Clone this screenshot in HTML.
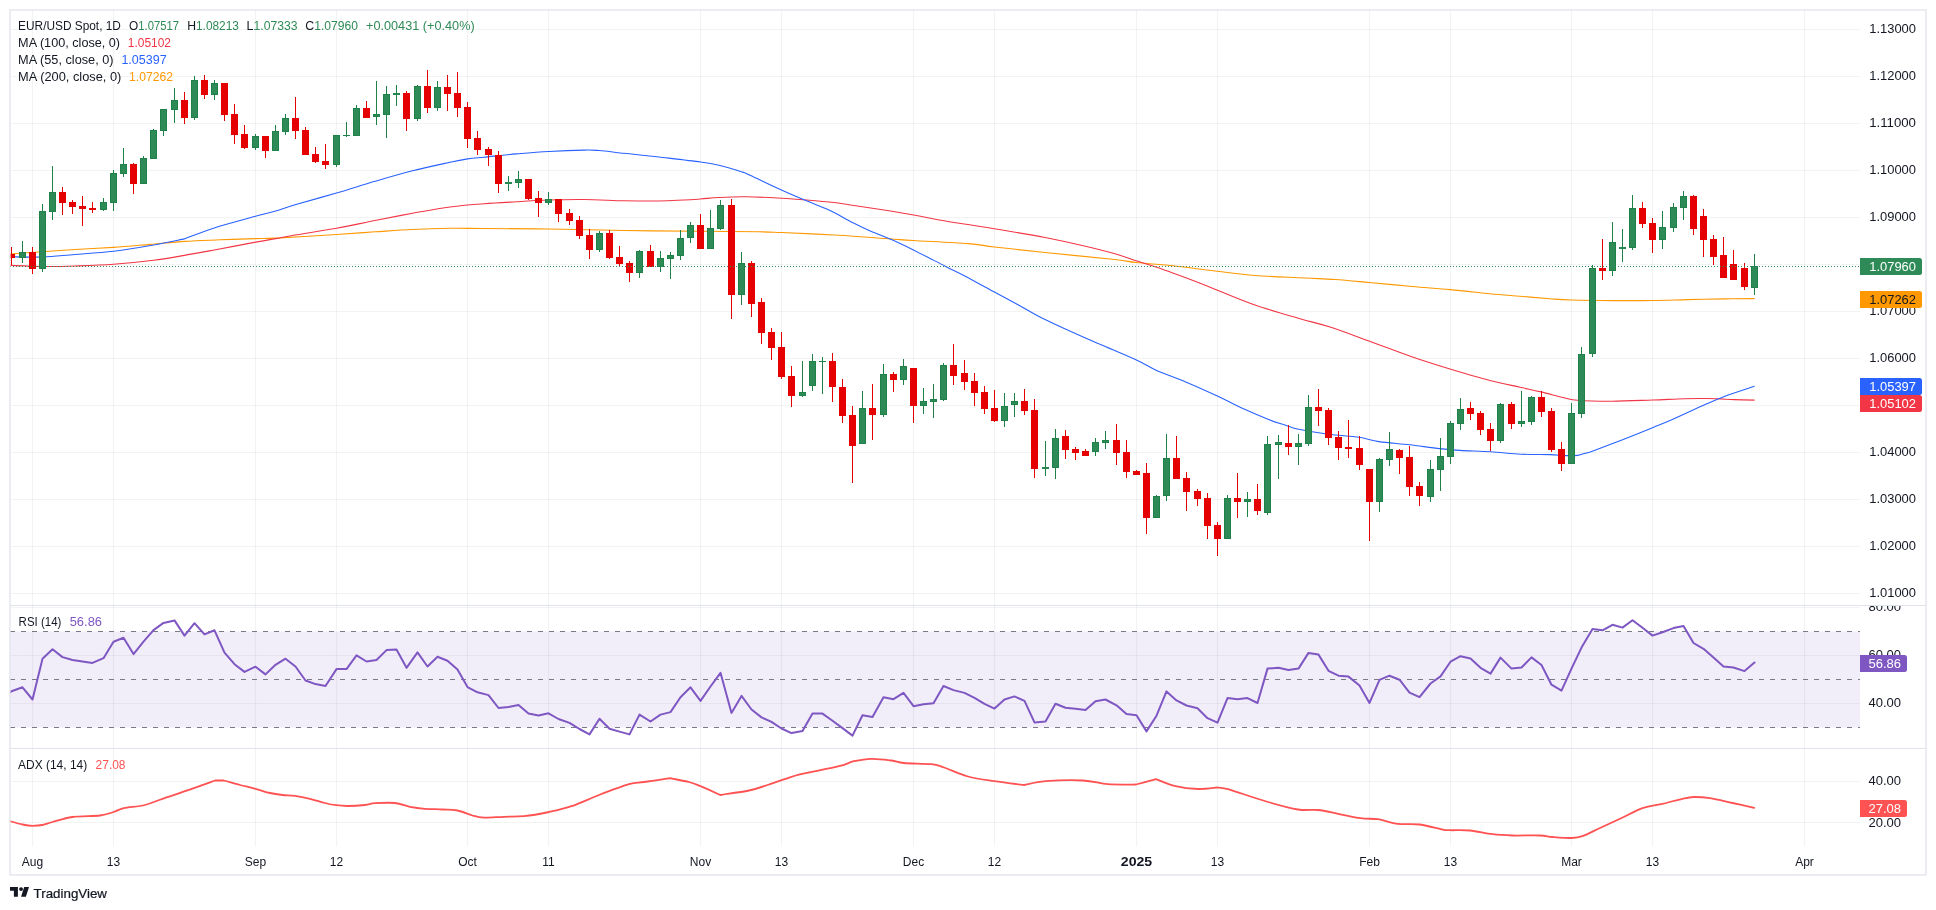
<!DOCTYPE html><html><head><meta charset="utf-8"><title>EUR/USD</title>
<style>html,body{margin:0;padding:0;background:#fff}body{width:1936px;height:910px;overflow:hidden;font-family:"Liberation Sans",sans-serif}svg{display:block;will-change:transform;opacity:0.999}text{font-family:"Liberation Sans",sans-serif}</style></head><body>
<svg width="1936" height="910" viewBox="0 0 1936 910">
<rect width="1936" height="910" fill="#fff"/>
<path d="M10 29.5H1860 M10 76.5H1860 M10 123.5H1860 M10 170.5H1860 M10 217.5H1860 M10 264.5H1860 M10 311.5H1860 M10 358.5H1860 M10 405.5H1860 M10 452.5H1860 M10 499.5H1860 M10 546.5H1860 M10 593.5H1860 M10 607.5H1860 M10 655.5H1860 M10 703.5H1860 M10 781.5H1860 M10 822.5H1860" stroke="#2A2E39" stroke-opacity="0.06" stroke-width="1.15" fill="none"/>
<path d="M32.5 10V846.5 M113.5 10V846.5 M255.5 10V846.5 M336.5 10V846.5 M467.5 10V846.5 M548.5 10V846.5 M700.5 10V846.5 M781.5 10V846.5 M913.5 10V846.5 M994.5 10V846.5 M1136.5 10V846.5 M1217.5 10V846.5 M1369.5 10V846.5 M1450.5 10V846.5 M1571.5 10V846.5 M1652.5 10V846.5 M1804.5 10V846.5" stroke="#2A2E39" stroke-opacity="0.06" stroke-width="1.15" fill="none"/>
<rect x="10" y="631.5" width="1850" height="96" fill="#7E57C2" fill-opacity="0.1"/>
<path d="M10 631.5H1860" stroke="#787B86" stroke-width="1" stroke-dasharray="5 6" fill="none"/>
<path d="M10 679.5H1860" stroke="#787B86" stroke-width="1" stroke-dasharray="5 6" fill="none"/>
<path d="M10 727.5H1860" stroke="#787B86" stroke-width="1" stroke-dasharray="5 6" fill="none"/>
<clipPath id="cp"><rect x="10" y="10" width="1850" height="865"/></clipPath>
<g clip-path="url(#cp)">
<path d="M10.0 254.0C15.4 253.6 31.7 252.4 42.5 251.7C53.3 250.9 63.2 250.2 75.0 249.5C86.8 248.8 101.0 248.2 113.5 247.4C126.0 246.6 138.1 245.4 150.0 244.4C161.9 243.4 173.3 242.2 185.0 241.4C196.7 240.6 208.2 240.3 220.0 239.8C231.8 239.3 246.2 238.9 255.5 238.6C264.8 238.3 262.2 238.8 275.7 238.1C289.2 237.4 319.9 235.6 336.5 234.5C353.1 233.4 362.3 232.6 375.0 231.8C387.7 231.0 400.0 230.1 412.5 229.5C425.0 228.9 438.1 228.5 450.0 228.3C461.9 228.1 467.5 228.4 484.0 228.5C500.5 228.6 525.7 228.7 549.0 229.0C572.3 229.3 598.8 230.1 624.0 230.5C649.2 230.9 678.0 231.0 700.5 231.2C723.0 231.5 745.5 231.5 759.0 231.8C772.5 232.0 769.0 232.0 781.5 232.5C794.0 233.0 816.1 234.0 834.0 235.0C851.9 236.0 875.8 237.8 889.0 238.8C902.2 239.7 900.3 239.7 913.5 240.5C926.7 241.3 954.5 242.5 968.0 243.6C981.5 244.7 981.7 245.5 994.5 247.0C1007.3 248.5 1024.9 250.4 1045.0 252.5C1065.1 254.6 1099.8 257.8 1115.0 259.5C1130.2 261.2 1126.0 261.4 1136.0 262.5C1146.0 263.6 1161.5 264.5 1175.0 266.0C1188.5 267.5 1203.7 269.7 1217.0 271.2C1230.3 272.8 1240.3 274.4 1255.0 275.5C1269.7 276.6 1291.7 277.3 1305.0 278.0C1318.3 278.7 1324.3 278.8 1335.0 279.5C1345.7 280.2 1356.1 281.3 1369.0 282.5C1381.9 283.7 1399.0 285.3 1412.5 286.5C1426.0 287.7 1437.1 288.4 1450.0 289.6C1462.9 290.8 1478.3 292.6 1490.0 293.8C1501.7 294.9 1510.0 295.4 1520.0 296.2C1530.0 297.1 1541.4 298.1 1550.0 298.8C1558.6 299.4 1561.1 299.7 1571.5 300.0C1581.9 300.3 1599.0 300.5 1612.5 300.6C1626.0 300.7 1640.0 300.7 1652.5 300.5C1665.0 300.3 1675.4 299.9 1687.5 299.6C1699.6 299.3 1713.9 299.1 1725.0 298.9C1736.1 298.7 1749.4 298.7 1754.2 298.6" stroke="#FF9800" stroke-width="1.1" fill="none" stroke-linejoin="round" stroke-linecap="round"/>
<path d="M10.0 265.4C15.4 265.6 31.7 266.4 42.5 266.5C53.3 266.6 63.2 266.4 75.0 266.0C86.8 265.6 100.4 265.2 113.5 264.3C126.6 263.4 141.8 261.8 153.6 260.3C165.4 258.8 174.2 257.1 184.3 255.4C194.4 253.7 202.4 252.2 214.3 250.0C226.2 247.8 245.5 244.0 255.7 242.1C265.9 240.2 269.1 239.8 275.7 238.6C282.2 237.4 284.9 236.7 295.0 235.0C305.1 233.3 323.2 230.7 336.5 228.3C349.8 225.9 362.3 223.0 375.0 220.5C387.7 218.0 400.0 215.6 412.5 213.3C425.0 211.1 438.1 208.6 450.0 207.0C461.9 205.4 472.9 204.6 484.0 203.8C495.1 202.9 505.7 202.4 516.5 201.8C527.3 201.1 537.8 200.4 549.0 200.0C560.2 199.6 571.5 199.4 584.0 199.5C596.5 199.6 611.5 200.5 624.0 200.8C636.5 201.0 649.0 201.1 659.0 201.0C669.0 200.9 677.1 200.3 684.0 200.0C690.9 199.7 694.7 199.4 700.5 199.0C706.3 198.6 711.3 197.9 719.0 197.5C726.7 197.1 736.1 196.6 746.5 196.8C756.9 196.9 771.5 197.7 781.5 198.2C791.5 198.8 797.8 199.3 806.5 200.0C815.2 200.7 826.1 201.6 834.0 202.5C841.9 203.4 844.8 204.1 854.0 205.5C863.2 206.9 879.1 209.2 889.0 210.8C898.9 212.3 903.9 213.2 913.5 215.0C923.1 216.8 937.4 219.7 946.5 221.2C955.6 222.8 960.0 223.2 968.0 224.5C976.0 225.8 981.7 226.6 994.5 228.8C1007.3 230.9 1030.8 234.8 1045.0 237.5C1059.2 240.2 1068.3 242.3 1080.0 245.0C1091.7 247.7 1105.7 251.1 1115.0 253.8C1124.3 256.4 1128.9 258.5 1136.0 260.8C1143.1 263.0 1147.7 264.1 1157.5 267.5C1167.3 270.9 1185.1 277.5 1195.0 281.2C1204.9 285.0 1207.0 286.0 1217.0 290.0C1227.0 294.0 1241.2 300.2 1255.0 305.0C1268.8 309.8 1287.5 315.1 1300.0 318.8C1312.5 322.4 1318.5 323.3 1330.0 327.0C1341.5 330.7 1355.2 336.0 1369.0 341.0C1382.8 346.0 1399.0 352.3 1412.5 357.0C1426.0 361.7 1437.1 365.1 1450.0 369.0C1462.9 372.9 1478.3 377.5 1490.0 380.5C1501.7 383.5 1511.5 385.3 1520.0 387.2C1528.5 389.1 1533.5 390.1 1541.0 391.9C1548.5 393.7 1558.9 396.6 1565.0 398.0C1571.1 399.4 1569.6 399.7 1577.5 400.2C1585.4 400.8 1600.0 401.3 1612.5 401.2C1625.0 401.2 1640.5 400.4 1652.5 400.0C1664.5 399.6 1675.4 398.9 1684.3 398.7C1693.2 398.4 1699.8 398.5 1705.7 398.5C1711.7 398.5 1715.2 398.7 1720.0 398.9C1724.8 399.1 1728.6 399.4 1734.3 399.6C1740.0 399.8 1750.9 400.0 1754.2 400.1" stroke="#F23645" stroke-width="1.1" fill="none" stroke-linejoin="round" stroke-linecap="round"/>
<path d="M10.0 256.8C15.4 256.8 31.7 257.4 42.5 257.0C53.3 256.6 63.2 255.4 75.0 254.5C86.8 253.6 100.4 252.9 113.5 251.3C126.6 249.7 141.8 247.1 153.6 245.0C165.4 242.9 179.2 239.9 184.3 238.9C189.3 237.1 202.4 231.7 214.3 227.9C226.2 224.1 245.3 219.0 255.5 216.2C265.7 213.4 269.1 212.9 275.7 211.0C282.3 209.1 284.9 207.8 295.0 204.8C305.1 201.8 323.2 196.9 336.5 193.0C349.8 189.1 362.3 185.0 375.0 181.3C387.7 177.6 400.0 174.0 412.5 170.8C425.0 167.6 440.8 164.3 450.0 162.3C459.2 160.3 462.0 159.8 467.7 158.9C473.4 158.1 475.9 158.0 484.0 157.2C492.1 156.4 505.7 154.8 516.5 153.9C527.3 153.0 537.8 152.1 549.0 151.5C560.2 150.9 575.7 150.3 584.0 150.1C592.3 149.9 592.3 150.0 599.0 150.5C605.7 151.0 617.2 152.6 624.0 153.3C630.8 154.1 634.2 154.4 640.0 155.0C645.8 155.6 648.9 155.8 659.0 157.0C669.1 158.2 690.5 160.6 700.5 162.0C710.5 163.4 712.2 163.7 719.0 165.3C725.8 166.9 736.3 170.1 741.5 171.8C746.7 173.4 743.4 172.3 750.0 175.3C756.6 178.3 771.9 185.7 781.4 190.0C790.9 194.3 799.0 197.7 807.1 201.1C815.2 204.5 822.4 206.9 830.0 210.5C837.6 214.1 846.1 219.3 853.0 222.8C859.9 226.3 865.0 228.7 871.4 231.5C877.8 234.3 884.4 236.5 891.4 239.6C898.4 242.7 904.3 245.5 913.4 250.0C922.5 254.5 937.2 262.1 945.7 266.4C954.2 270.7 956.2 271.4 964.3 275.7C972.4 280.0 985.6 287.3 994.4 292.1C1003.2 296.9 1009.0 299.9 1017.1 304.3C1025.2 308.7 1033.9 314.0 1042.9 318.6C1052.0 323.2 1061.9 327.4 1071.4 331.7C1080.9 336.0 1089.2 339.6 1100.0 344.3C1110.8 349.0 1126.9 355.6 1136.4 360.0C1145.9 364.4 1148.9 367.1 1157.1 370.7C1165.3 374.3 1175.7 377.7 1185.7 381.9C1195.8 386.1 1207.9 391.6 1217.4 396.0C1226.9 400.4 1234.4 404.7 1242.9 408.6C1251.4 412.5 1261.5 416.7 1268.6 419.5C1275.7 422.3 1280.7 423.6 1285.7 425.2C1290.7 426.8 1291.5 427.8 1298.6 429.3C1305.7 430.8 1318.4 433.0 1328.4 434.3C1338.5 435.6 1350.5 436.1 1358.9 437.3C1367.3 438.5 1370.5 440.4 1379.0 441.6C1387.5 442.9 1399.4 443.6 1409.6 444.8C1419.8 446.0 1431.5 447.7 1439.9 448.6C1448.3 449.5 1451.5 449.9 1460.0 450.4C1468.5 450.9 1480.4 451.2 1490.6 451.8C1500.8 452.4 1511.0 453.7 1520.9 454.2C1530.8 454.7 1542.7 454.4 1550.0 454.6C1557.3 454.8 1560.4 455.5 1565.0 455.6C1569.6 455.7 1574.2 455.8 1577.5 455.4C1580.8 455.0 1583.8 453.6 1585.0 453.2C1586.1 452.9 1585.9 453.5 1591.7 451.4C1597.5 449.3 1609.9 444.6 1620.0 440.7C1630.1 436.8 1643.7 431.3 1652.5 427.7C1661.3 424.1 1664.0 423.2 1672.9 419.3C1681.8 415.4 1697.0 408.1 1705.7 404.3C1714.4 400.5 1716.9 399.3 1725.0 396.2C1733.1 393.2 1749.4 387.9 1754.2 386.2" stroke="#2962FF" stroke-width="1.1" fill="none" stroke-linejoin="round" stroke-linecap="round"/>
<path d="M22.5 241.0V263.0 M42.5 204.0V272.0 M52.5 166.0V220.0 M103.5 198.0V211.0 M113.5 170.0V211.0 M123.5 148.0V177.0 M143.5 156.0V184.0 M153.5 129.0V159.0 M163.5 109.0V136.0 M174.5 88.0V123.0 M194.5 76.0V120.0 M214.5 80.0V100.0 M255.5 134.0V150.0 M275.5 125.0V151.0 M285.5 114.0V135.0 M336.5 135.0V167.0 M346.5 122.0V137.0 M356.5 105.0V136.0 M376.5 81.0V125.0 M386.5 86.0V138.0 M396.5 85.0V106.0 M417.5 85.0V121.0 M437.5 81.0V111.0 M508.5 176.0V191.0 M518.5 171.0V188.0 M548.5 192.0V205.0 M599.5 231.0V252.0 M639.5 250.0V278.0 M660.5 251.0V272.0 M670.5 252.0V279.0 M680.5 230.0V260.0 M690.5 222.0V243.0 M710.5 210.0V249.0 M720.5 200.0V230.0 M741.5 252.0V305.0 M802.5 361.0V397.0 M812.5 354.0V391.0 M822.5 357.0V394.0 M862.5 391.0V444.0 M883.5 364.0V417.0 M903.5 359.0V385.0 M923.5 388.0V414.0 M933.5 384.0V418.0 M943.5 363.0V401.0 M1004.5 393.0V427.0 M1014.5 393.0V417.0 M1045.5 441.0V476.0 M1055.5 429.0V479.0 M1095.5 438.0V456.0 M1105.5 431.0V449.0 M1156.5 495.0V518.0 M1166.5 434.0V501.0 M1227.5 495.0V539.0 M1247.5 492.0V517.0 M1267.5 436.0V515.0 M1278.5 435.0V479.0 M1298.5 434.0V465.0 M1308.5 395.0V446.0 M1379.5 458.0V512.0 M1389.5 432.0V466.0 M1430.5 460.0V502.0 M1440.5 438.0V491.0 M1450.5 421.0V464.0 M1460.5 398.0V430.0 M1500.5 403.0V443.0 M1521.5 391.0V427.0 M1531.5 396.0V425.0 M1571.5 403.0V464.0 M1581.5 347.0V418.0 M1592.5 265.0V357.0 M1612.5 222.0V276.0 M1622.5 229.0V262.0 M1632.5 195.0V250.0 M1662.5 211.0V249.0 M1673.5 203.0V232.0 M1683.5 191.0V220.0 M1754.5 254.0V295.0" stroke="#1E8148" stroke-width="1" fill="none"/>
<path d="M11.5 247.0V265.0 M32.5 247.0V274.0 M62.5 187.0V215.0 M72.5 200.0V214.0 M82.5 196.0V226.0 M92.5 202.0V213.0 M133.5 163.0V194.0 M184.5 92.0V124.0 M204.5 75.0V99.0 M224.5 83.0V121.0 M234.5 104.0V144.0 M244.5 125.0V149.0 M265.5 136.0V158.0 M295.5 97.0V139.0 M305.5 127.0V155.0 M315.5 147.0V163.0 M325.5 144.0V169.0 M366.5 101.0V118.0 M406.5 91.0V131.0 M427.5 70.0V113.0 M447.5 75.0V111.0 M457.5 72.0V117.0 M467.5 102.0V148.0 M477.5 131.0V155.0 M488.5 147.0V166.0 M498.5 151.0V193.0 M528.5 179.0V200.0 M538.5 191.0V217.0 M558.5 199.0V222.0 M569.5 209.0V225.0 M579.5 216.0V239.0 M589.5 229.0V259.0 M609.5 230.0V259.0 M619.5 246.0V266.0 M629.5 261.0V282.0 M650.5 245.0V267.0 M700.5 214.0V249.0 M731.5 199.0V319.0 M751.5 261.0V317.0 M761.5 298.0V344.0 M771.5 328.0V360.0 M781.5 332.0V379.0 M791.5 366.0V407.0 M832.5 353.0V402.0 M842.5 379.0V423.0 M852.5 406.0V483.0 M872.5 384.0V440.0 M893.5 372.0V392.0 M913.5 368.0V423.0 M953.5 344.0V385.0 M964.5 360.0V390.0 M974.5 373.0V406.0 M984.5 386.0V414.0 M994.5 390.0V422.0 M1024.5 389.0V415.0 M1034.5 399.0V478.0 M1065.5 430.0V459.0 M1075.5 447.0V460.0 M1085.5 449.0V456.0 M1116.5 424.0V465.0 M1126.5 440.0V478.0 M1136.5 470.0V475.0 M1146.5 463.0V534.0 M1176.5 436.0V479.0 M1186.5 472.0V511.0 M1197.5 489.0V506.0 M1207.5 493.0V539.0 M1217.5 522.0V556.0 M1237.5 473.0V518.0 M1257.5 484.0V515.0 M1288.5 425.0V455.0 M1318.5 389.0V426.0 M1328.5 408.0V445.0 M1338.5 431.0V460.0 M1348.5 420.0V458.0 M1359.5 436.0V470.0 M1369.5 469.0V541.0 M1399.5 449.0V474.0 M1409.5 446.0V496.0 M1419.5 482.0V506.0 M1470.5 402.0V420.0 M1480.5 411.0V435.0 M1490.5 423.0V451.0 M1511.5 402.0V429.0 M1541.5 391.0V417.0 M1551.5 408.0V452.0 M1561.5 442.0V471.0 M1602.5 239.0V280.0 M1642.5 202.0V228.0 M1652.5 218.0V253.0 M1693.5 195.0V235.0 M1703.5 209.0V257.0 M1713.5 235.0V265.0 M1723.5 237.0V278.0 M1733.5 250.0V280.0 M1744.5 263.0V290.0" stroke="#E50000" stroke-width="1" fill="none"/>
<path d="M19 252.0h7v6.0h-7zM39 211.0h7v58.0h-7zM49 192.0h7v20.0h-7zM100 202.0h7v8.0h-7zM110 173.0h7v30.0h-7zM120 164.0h7v10.0h-7zM140 158.0h7v26.0h-7zM150 130.0h7v29.0h-7zM160 109.0h7v22.0h-7zM171 100.0h7v10.0h-7zM191 80.0h7v38.0h-7zM211 83.0h7v12.0h-7zM252 136.0h7v12.0h-7zM272 131.0h7v20.0h-7zM282 118.0h7v14.0h-7zM333 135.0h7v30.0h-7zM343 135.0h7v1.0h-7zM353 108.0h7v28.0h-7zM373 114.0h7v3.0h-7zM383 94.0h7v21.0h-7zM393 93.0h7v2.0h-7zM414 86.0h7v33.0h-7zM434 87.0h7v21.0h-7zM505 182.0h7v2.0h-7zM515 179.0h7v4.0h-7zM545 199.0h7v4.0h-7zM596 233.0h7v17.0h-7zM636 251.0h7v22.0h-7zM657 258.0h7v9.0h-7zM667 255.0h7v4.0h-7zM677 238.0h7v18.0h-7zM687 225.0h7v13.0h-7zM707 228.0h7v21.0h-7zM717 205.0h7v24.0h-7zM738 263.0h7v32.0h-7zM799 392.0h7v4.0h-7zM809 361.0h7v25.0h-7zM819 361.0h7v1.0h-7zM859 408.0h7v36.0h-7zM880 374.0h7v41.0h-7zM900 366.0h7v14.0h-7zM920 401.0h7v5.0h-7zM930 399.0h7v3.0h-7zM940 365.0h7v35.0h-7zM1001 406.0h7v15.0h-7zM1011 401.0h7v4.0h-7zM1042 467.0h7v2.0h-7zM1052 438.0h7v30.0h-7zM1092 442.0h7v10.0h-7zM1102 440.0h7v3.0h-7zM1153 496.0h7v22.0h-7zM1163 458.0h7v38.0h-7zM1224 498.0h7v41.0h-7zM1244 499.0h7v3.0h-7zM1264 444.0h7v69.0h-7zM1275 442.0h7v3.0h-7zM1295 443.0h7v4.0h-7zM1305 407.0h7v37.0h-7zM1376 459.0h7v43.0h-7zM1386 449.0h7v11.0h-7zM1427 469.0h7v28.0h-7zM1437 456.0h7v14.0h-7zM1447 423.0h7v34.0h-7zM1457 409.0h7v15.0h-7zM1497 404.0h7v37.0h-7zM1518 421.0h7v3.0h-7zM1528 397.0h7v25.0h-7zM1568 413.0h7v51.0h-7zM1578 354.0h7v60.0h-7zM1589 268.0h7v86.0h-7zM1609 242.0h7v29.0h-7zM1619 247.0h7v2.0h-7zM1629 208.0h7v40.0h-7zM1659 227.0h7v13.0h-7zM1670 207.0h7v21.0h-7zM1680 196.0h7v12.0h-7zM1751 266.0h7v22.0h-7z" fill="#2E8B57"/>
<path d="M19.5 252.5h6v5.0h-6zM39.5 211.5h6v57.0h-6zM49.5 192.5h6v19.0h-6zM100.5 202.5h6v7.0h-6zM110.5 173.5h6v29.0h-6zM120.5 164.5h6v9.0h-6zM140.5 158.5h6v25.0h-6zM150.5 130.5h6v28.0h-6zM160.5 109.5h6v21.0h-6zM171.5 100.5h6v9.0h-6zM191.5 80.5h6v37.0h-6zM211.5 83.5h6v11.0h-6zM252.5 136.5h6v11.0h-6zM272.5 131.5h6v19.0h-6zM282.5 118.5h6v13.0h-6zM333.5 135.5h6v29.0h-6zM343 135.5h7M353.5 108.5h6v27.0h-6zM373.5 114.5h6v2.0h-6zM383.5 94.5h6v20.0h-6zM393 94.0h7M414.5 86.5h6v32.0h-6zM434.5 87.5h6v20.0h-6zM505 183.0h7M515.5 179.5h6v3.0h-6zM545.5 199.5h6v3.0h-6zM596.5 233.5h6v16.0h-6zM636.5 251.5h6v21.0h-6zM657.5 258.5h6v8.0h-6zM667.5 255.5h6v3.0h-6zM677.5 238.5h6v17.0h-6zM687.5 225.5h6v12.0h-6zM707.5 228.5h6v20.0h-6zM717.5 205.5h6v23.0h-6zM738.5 263.5h6v31.0h-6zM799.5 392.5h6v3.0h-6zM809.5 361.5h6v24.0h-6zM819 361.5h7M859.5 408.5h6v35.0h-6zM880.5 374.5h6v40.0h-6zM900.5 366.5h6v13.0h-6zM920.5 401.5h6v4.0h-6zM930.5 399.5h6v2.0h-6zM940.5 365.5h6v34.0h-6zM1001.5 406.5h6v14.0h-6zM1011.5 401.5h6v3.0h-6zM1042 468.0h7M1052.5 438.5h6v29.0h-6zM1092.5 442.5h6v9.0h-6zM1102.5 440.5h6v2.0h-6zM1153.5 496.5h6v21.0h-6zM1163.5 458.5h6v37.0h-6zM1224.5 498.5h6v40.0h-6zM1244.5 499.5h6v2.0h-6zM1264.5 444.5h6v68.0h-6zM1275.5 442.5h6v2.0h-6zM1295.5 443.5h6v3.0h-6zM1305.5 407.5h6v36.0h-6zM1376.5 459.5h6v42.0h-6zM1386.5 449.5h6v10.0h-6zM1427.5 469.5h6v27.0h-6zM1437.5 456.5h6v13.0h-6zM1447.5 423.5h6v33.0h-6zM1457.5 409.5h6v14.0h-6zM1497.5 404.5h6v36.0h-6zM1518.5 421.5h6v2.0h-6zM1528.5 397.5h6v24.0h-6zM1568.5 413.5h6v50.0h-6zM1578.5 354.5h6v59.0h-6zM1589.5 268.5h6v85.0h-6zM1609.5 242.5h6v28.0h-6zM1619 248.0h7M1629.5 208.5h6v39.0h-6zM1659.5 227.5h6v12.0h-6zM1670.5 207.5h6v20.0h-6zM1680.5 196.5h6v11.0h-6zM1751.5 266.5h6v21.0h-6z" fill="none" stroke="#1E8148" stroke-width="1"/>
<path d="M8 254.0h7v4.0h-7zM29 252.0h7v17.0h-7zM59 192.0h7v11.0h-7zM69 202.0h7v5.0h-7zM79 206.0h7v3.0h-7zM89 208.0h7v2.0h-7zM130 164.0h7v20.0h-7zM181 100.0h7v18.0h-7zM201 80.0h7v15.0h-7zM221 83.0h7v32.0h-7zM231 114.0h7v21.0h-7zM241 134.0h7v14.0h-7zM262 136.0h7v15.0h-7zM292 118.0h7v13.0h-7zM302 130.0h7v25.0h-7zM312 154.0h7v8.0h-7zM322 161.0h7v4.0h-7zM363 108.0h7v10.0h-7zM403 93.0h7v26.0h-7zM424 86.0h7v22.0h-7zM444 87.0h7v7.0h-7zM454 93.0h7v15.0h-7zM464 107.0h7v32.0h-7zM474 138.0h7v12.0h-7zM485 149.0h7v6.0h-7zM495 155.0h7v29.0h-7zM525 179.0h7v20.0h-7zM535 198.0h7v5.0h-7zM555 199.0h7v15.0h-7zM566 213.0h7v8.0h-7zM576 220.0h7v16.0h-7zM586 235.0h7v15.0h-7zM606 233.0h7v25.0h-7zM616 257.0h7v7.0h-7zM626 263.0h7v10.0h-7zM647 251.0h7v16.0h-7zM697 225.0h7v24.0h-7zM728 205.0h7v90.0h-7zM748 263.0h7v41.0h-7zM758 302.0h7v31.0h-7zM768 332.0h7v16.0h-7zM778 347.0h7v30.0h-7zM788 376.0h7v20.0h-7zM829 361.0h7v26.0h-7zM839 387.0h7v29.0h-7zM849 415.0h7v31.0h-7zM869 408.0h7v7.0h-7zM890 374.0h7v6.0h-7zM910 368.0h7v38.0h-7zM950 365.0h7v11.0h-7zM961 373.0h7v9.0h-7zM971 381.0h7v12.0h-7zM981 392.0h7v17.0h-7zM991 408.0h7v13.0h-7zM1021 401.0h7v10.0h-7zM1031 410.0h7v59.0h-7zM1062 436.0h7v14.0h-7zM1072 449.0h7v4.0h-7zM1082 451.0h7v5.0h-7zM1113 440.0h7v13.0h-7zM1123 452.0h7v20.0h-7zM1133 471.0h7v4.0h-7zM1143 473.0h7v45.0h-7zM1173 458.0h7v21.0h-7zM1183 478.0h7v14.0h-7zM1194 491.0h7v8.0h-7zM1204 498.0h7v28.0h-7zM1214 525.0h7v14.0h-7zM1234 498.0h7v4.0h-7zM1254 499.0h7v12.0h-7zM1285 443.0h7v4.0h-7zM1315 407.0h7v4.0h-7zM1325 410.0h7v28.0h-7zM1335 437.0h7v11.0h-7zM1345 447.0h7v2.0h-7zM1356 448.0h7v17.0h-7zM1366 469.0h7v33.0h-7zM1396 450.0h7v8.0h-7zM1406 457.0h7v30.0h-7zM1416 486.0h7v10.0h-7zM1467 408.0h7v6.0h-7zM1477 413.0h7v17.0h-7zM1487 429.0h7v12.0h-7zM1508 404.0h7v20.0h-7zM1538 397.0h7v15.0h-7zM1548 411.0h7v39.0h-7zM1558 449.0h7v15.0h-7zM1599 268.0h7v3.0h-7zM1639 208.0h7v16.0h-7zM1649 223.0h7v17.0h-7zM1690 196.0h7v33.0h-7zM1700 216.0h7v24.0h-7zM1710 239.0h7v18.0h-7zM1720 255.0h7v23.0h-7zM1730 264.0h7v16.0h-7zM1741 268.0h7v19.0h-7z" fill="#E50000"/>
<path d="M10 266.5H1860" stroke="#2E8B57" stroke-width="1.2" stroke-dasharray="1 2" fill="none"/>
<path d="M10.2 692.1 L11.5 691.3 L22.5 687.3 L32.5 699.5 L42.5 658.7 L52.5 649.3 L62.5 657.1 L72.5 660.0 L82.5 661.5 L92.5 662.9 L103.5 658.2 L113.5 641.7 L123.5 637.7 L133.5 654.1 L143.5 641.7 L153.5 630.1 L163.5 622.9 L174.5 620.4 L184.5 635.6 L194.5 623.2 L204.5 634.4 L214.5 630.3 L224.5 652.6 L234.5 664.2 L244.5 671.9 L255.5 666.7 L265.5 674.4 L275.5 664.8 L285.5 658.7 L295.5 666.5 L305.5 680.5 L315.5 684.1 L325.5 686.0 L336.5 669.1 L346.5 669.1 L356.5 655.4 L366.5 661.5 L376.5 660.0 L386.5 650.1 L396.5 649.6 L406.5 667.8 L417.5 652.4 L427.5 666.5 L437.5 656.7 L447.5 660.7 L457.5 669.5 L467.5 687.1 L477.5 692.3 L488.5 695.1 L498.5 708.0 L508.5 707.0 L518.5 705.0 L528.5 713.6 L538.5 715.4 L548.5 713.3 L558.5 719.0 L569.5 722.9 L579.5 729.0 L589.5 734.4 L599.5 718.7 L609.5 728.8 L619.5 731.6 L629.5 734.4 L639.5 714.6 L650.5 721.5 L660.5 714.6 L670.5 712.1 L680.5 697.2 L690.5 687.3 L700.5 700.9 L710.5 686.5 L720.5 672.8 L731.5 712.9 L741.5 695.9 L751.5 709.5 L761.5 717.4 L771.5 721.9 L781.5 728.5 L791.5 733.1 L802.5 731.1 L812.5 713.6 L822.5 713.6 L832.5 720.7 L842.5 728.1 L852.5 735.6 L862.5 715.2 L872.5 717.1 L883.5 697.2 L893.5 699.2 L903.5 692.9 L913.5 706.2 L923.5 704.2 L933.5 703.3 L943.5 686.0 L953.5 690.1 L964.5 692.9 L974.5 697.9 L984.5 703.8 L994.5 708.6 L1004.5 699.5 L1014.5 696.4 L1024.5 700.9 L1034.5 722.4 L1045.5 721.5 L1055.5 703.7 L1065.5 707.8 L1075.5 708.8 L1085.5 710.0 L1095.5 701.2 L1105.5 699.5 L1116.5 705.3 L1126.5 714.1 L1136.5 715.2 L1146.5 731.4 L1156.5 715.7 L1166.5 691.4 L1176.5 700.4 L1186.5 705.5 L1197.5 708.3 L1207.5 718.2 L1217.5 722.7 L1227.5 698.1 L1237.5 699.2 L1247.5 698.1 L1257.5 703.0 L1267.5 668.6 L1278.5 667.8 L1288.5 670.0 L1298.5 668.6 L1308.5 652.9 L1318.5 654.6 L1328.5 670.8 L1338.5 675.7 L1348.5 676.6 L1359.5 685.5 L1369.5 702.9 L1379.5 679.9 L1389.5 675.7 L1399.5 679.7 L1409.5 692.6 L1419.5 697.1 L1430.5 683.5 L1440.5 676.4 L1450.5 661.7 L1460.5 656.2 L1470.5 658.4 L1480.5 667.8 L1490.5 673.6 L1500.5 657.6 L1511.5 668.6 L1521.5 667.5 L1531.5 657.4 L1541.5 665.0 L1551.5 684.7 L1561.5 690.6 L1571.5 668.6 L1581.5 647.6 L1592.5 629.0 L1602.5 630.3 L1612.5 624.8 L1622.5 627.6 L1632.5 620.2 L1642.5 627.8 L1652.5 635.6 L1662.5 632.3 L1673.5 628.1 L1683.5 626.0 L1693.5 643.0 L1703.5 648.8 L1713.5 657.6 L1723.5 666.5 L1733.5 667.5 L1744.5 671.1 L1754.5 662.5" stroke="#7E57C2" stroke-width="2.0" fill="none" stroke-linejoin="round" stroke-linecap="round"/>
<path d="M10.0 821.2C12.1 821.8 18.8 823.8 22.5 824.5C26.2 825.2 29.2 825.7 32.5 825.8C35.8 825.8 39.2 825.6 42.5 825.0C45.8 824.4 47.5 823.3 52.5 822.0C57.5 820.7 64.6 818.1 72.5 817.0C80.4 815.9 93.2 816.3 100.0 815.5C106.8 814.7 109.5 813.2 113.5 812.0C117.5 810.8 118.5 809.4 123.8 808.2C129.0 807.1 138.5 806.6 145.0 805.0C151.5 803.4 155.8 801.0 162.5 798.8C169.2 796.5 176.2 794.3 185.0 791.2C193.8 788.2 210.0 782.3 215.0 780.5C216.5 780.5 222.3 780.5 223.8 780.5C226.5 781.2 234.7 783.6 240.0 785.0C245.3 786.4 250.5 787.4 255.5 788.8C260.5 790.1 265.5 792.0 270.0 793.0C274.5 794.0 278.3 794.5 282.5 795.0C286.7 795.5 290.4 795.1 295.0 795.8C299.6 796.4 305.0 797.5 310.0 798.8C315.0 800.0 320.6 801.9 325.0 803.0C329.4 804.1 332.8 804.8 336.5 805.2C340.2 805.8 342.8 806.0 347.5 806.0C352.2 806.0 360.4 805.5 365.0 805.0C369.6 804.5 370.0 803.6 375.0 803.2C380.0 802.9 389.2 802.4 395.0 803.0C400.8 803.6 405.0 805.8 410.0 806.8C415.0 807.7 419.6 808.3 425.0 808.8C430.4 809.2 437.1 809.2 442.5 809.5C447.9 809.8 452.5 809.5 457.5 810.5C462.5 811.5 468.1 814.3 472.5 815.5C476.9 816.7 478.8 817.4 484.0 817.6C489.2 817.8 497.3 817.0 504.0 816.8C510.7 816.5 516.5 817.0 524.0 816.2C531.5 815.5 541.1 813.7 549.0 812.0C556.9 810.3 563.2 809.1 571.5 806.2C579.8 803.4 589.4 798.7 599.0 795.0C608.6 791.3 621.5 786.4 629.0 784.2C636.5 782.1 637.1 783.0 644.0 782.0C650.9 781.0 665.9 778.9 670.2 778.2C673.4 778.9 684.0 780.7 689.0 782.0C694.0 783.3 695.3 784.1 700.5 786.2C705.7 788.4 717.0 793.5 720.2 795.0C725.0 794.2 740.9 792.2 749.0 790.5C757.1 788.8 761.9 786.8 769.0 784.5C776.1 782.2 784.8 778.8 791.5 776.8C798.2 774.8 801.1 774.2 809.0 772.5C816.9 770.8 831.5 768.1 839.0 766.2C846.5 764.4 848.6 762.5 854.0 761.2C859.4 760.0 865.2 758.9 871.5 758.8C877.8 758.6 886.1 759.8 891.5 760.5C896.9 761.2 897.3 762.4 904.0 763.0C910.7 763.6 924.8 763.5 931.5 764.2C938.2 765.0 937.9 765.5 944.0 767.5C950.1 769.5 959.6 774.2 968.0 776.5C976.4 778.8 984.9 779.8 994.2 781.2C1003.6 782.7 1019.2 784.4 1024.2 785.0C1027.8 784.4 1035.7 782.0 1045.5 781.2C1055.3 780.5 1072.6 780.0 1083.0 780.5C1093.4 781.0 1099.2 783.6 1108.0 784.2C1116.8 784.9 1131.3 784.5 1136.0 784.5C1139.3 783.6 1152.7 780.1 1156.0 779.2C1159.2 780.4 1168.5 784.6 1175.5 786.2C1182.5 787.9 1191.1 788.8 1198.0 789.0C1204.9 789.2 1213.6 787.8 1216.8 787.5C1218.6 787.8 1219.5 786.8 1228.0 789.2C1236.5 791.7 1256.3 798.6 1268.0 802.0C1279.7 805.4 1289.7 808.2 1298.0 809.5C1306.3 810.8 1311.3 809.3 1318.0 810.0C1324.7 810.7 1330.9 812.4 1338.0 813.8C1345.1 815.1 1353.8 817.3 1360.5 818.2C1367.2 819.2 1371.8 818.3 1378.0 819.2C1384.2 820.2 1391.0 822.9 1398.0 823.8C1405.0 824.6 1412.6 823.5 1420.0 824.5C1427.4 825.5 1437.5 828.5 1442.5 829.5C1447.5 830.5 1445.4 830.1 1450.0 830.2C1454.6 830.4 1462.9 829.8 1470.0 830.5C1477.1 831.2 1485.4 833.4 1492.5 834.2C1499.6 835.1 1504.6 835.3 1512.5 835.5C1520.4 835.7 1533.3 835.2 1540.0 835.5C1546.7 835.8 1547.2 836.6 1552.5 837.0C1557.8 837.4 1566.5 838.1 1571.5 838.0C1576.5 837.9 1577.8 837.9 1582.5 836.2C1587.2 834.6 1593.8 830.9 1600.0 828.0C1606.2 825.1 1612.9 822.0 1620.0 818.8C1627.1 815.5 1635.4 810.8 1642.5 808.2C1649.6 805.8 1655.8 805.3 1662.5 803.8C1669.2 802.2 1677.3 799.9 1682.5 798.8C1687.7 797.6 1689.2 797.1 1693.8 797.0C1698.3 796.9 1703.5 797.2 1710.0 798.2C1716.5 799.2 1725.1 801.4 1732.5 803.0C1739.9 804.6 1750.6 807.0 1754.2 807.8" stroke="#FF5252" stroke-width="1.8" fill="none" stroke-linejoin="round" stroke-linecap="round"/>
</g>
<rect x="10" y="10" width="1916" height="865" fill="none" stroke="#E0E3EB" stroke-width="1.3"/>
<path d="M10 605.5H1926M10 748.5H1926" stroke="#E0E3EB" stroke-width="1.1" fill="none"/>
<text x="1869.2" y="33.1" font-size="12" fill="#131722" textLength="46.8" lengthAdjust="spacingAndGlyphs">1.13000</text>
<text x="1869.2" y="80.1" font-size="12" fill="#131722" textLength="46.8" lengthAdjust="spacingAndGlyphs">1.12000</text>
<text x="1869.2" y="127.1" font-size="12" fill="#131722" textLength="46.8" lengthAdjust="spacingAndGlyphs">1.11000</text>
<text x="1869.2" y="174.1" font-size="12" fill="#131722" textLength="46.8" lengthAdjust="spacingAndGlyphs">1.10000</text>
<text x="1869.2" y="221.1" font-size="12" fill="#131722" textLength="46.8" lengthAdjust="spacingAndGlyphs">1.09000</text>
<text x="1869.2" y="268.1" font-size="12" fill="#131722" textLength="46.8" lengthAdjust="spacingAndGlyphs">1.08000</text>
<text x="1869.2" y="315.1" font-size="12" fill="#131722" textLength="46.8" lengthAdjust="spacingAndGlyphs">1.07000</text>
<text x="1869.2" y="362.1" font-size="12" fill="#131722" textLength="46.8" lengthAdjust="spacingAndGlyphs">1.06000</text>
<text x="1869.2" y="409.1" font-size="12" fill="#131722" textLength="46.8" lengthAdjust="spacingAndGlyphs">1.05000</text>
<text x="1869.2" y="456.1" font-size="12" fill="#131722" textLength="46.8" lengthAdjust="spacingAndGlyphs">1.04000</text>
<text x="1869.2" y="503.1" font-size="12" fill="#131722" textLength="46.8" lengthAdjust="spacingAndGlyphs">1.03000</text>
<text x="1869.2" y="550.1" font-size="12" fill="#131722" textLength="46.8" lengthAdjust="spacingAndGlyphs">1.02000</text>
<text x="1869.2" y="597.1" font-size="12" fill="#131722" textLength="46.8" lengthAdjust="spacingAndGlyphs">1.01000</text>
<clipPath id="cr"><rect x="1860" y="606" width="66" height="142"/></clipPath><g clip-path="url(#cr)">
<text x="1868.5" y="611.1" font-size="12" fill="#131722" textLength="32.6" lengthAdjust="spacingAndGlyphs">80.00</text>
<text x="1868.5" y="659.1" font-size="12" fill="#131722" textLength="32.6" lengthAdjust="spacingAndGlyphs">60.00</text>
<text x="1868.5" y="707.1" font-size="12" fill="#131722" textLength="32.6" lengthAdjust="spacingAndGlyphs">40.00</text>
</g>
<text x="1868.5" y="785.1" font-size="12" fill="#131722" textLength="32.6" lengthAdjust="spacingAndGlyphs">40.00</text>
<text x="1868.5" y="826.9" font-size="12" fill="#131722" textLength="32.6" lengthAdjust="spacingAndGlyphs">20.00</text>
<path d="M1860 258.0h59.5a2.5 2.5 0 0 1 2.5 2.5v12a2.5 2.5 0 0 1 -2.5 2.5h-59.5z" fill="#2E8B57"/><text x="1869.2" y="270.9" font-size="12" fill="#fff" textLength="46.8" lengthAdjust="spacingAndGlyphs">1.07960</text>
<path d="M1860 291.0h59.5a2.5 2.5 0 0 1 2.5 2.5v12a2.5 2.5 0 0 1 -2.5 2.5h-59.5z" fill="#FF9800"/><text x="1869.2" y="303.9" font-size="12" fill="#131722" textLength="46.8" lengthAdjust="spacingAndGlyphs">1.07262</text>
<path d="M1860 378.0h59.5a2.5 2.5 0 0 1 2.5 2.5v12a2.5 2.5 0 0 1 -2.5 2.5h-59.5z" fill="#2962FF"/><text x="1869.2" y="390.9" font-size="12" fill="#fff" textLength="46.8" lengthAdjust="spacingAndGlyphs">1.05397</text>
<path d="M1860 395.0h59.5a2.5 2.5 0 0 1 2.5 2.5v12a2.5 2.5 0 0 1 -2.5 2.5h-59.5z" fill="#F23645"/><text x="1869.2" y="407.9" font-size="12" fill="#fff" textLength="46.8" lengthAdjust="spacingAndGlyphs">1.05102</text>
<path d="M1860 655.0h44.5a2.5 2.5 0 0 1 2.5 2.5v12a2.5 2.5 0 0 1 -2.5 2.5h-44.5z" fill="#7E57C2"/><text x="1868.5" y="667.9" font-size="12" fill="#fff" textLength="32.6" lengthAdjust="spacingAndGlyphs">56.86</text>
<path d="M1860 800.0h44.5a2.5 2.5 0 0 1 2.5 2.5v12a2.5 2.5 0 0 1 -2.5 2.5h-44.5z" fill="#FF5252"/><text x="1868.5" y="812.9" font-size="12" fill="#fff" textLength="32.6" lengthAdjust="spacingAndGlyphs">27.08</text>
<text x="32.5" y="866" font-size="12" fill="#131722" text-anchor="middle">Aug</text>
<text x="113.5" y="866" font-size="12" fill="#131722" text-anchor="middle">13</text>
<text x="255.5" y="866" font-size="12" fill="#131722" text-anchor="middle">Sep</text>
<text x="336.5" y="866" font-size="12" fill="#131722" text-anchor="middle">12</text>
<text x="467.5" y="866" font-size="12" fill="#131722" text-anchor="middle">Oct</text>
<text x="548.5" y="866" font-size="12" fill="#131722" text-anchor="middle">11</text>
<text x="700.5" y="866" font-size="12" fill="#131722" text-anchor="middle">Nov</text>
<text x="781.5" y="866" font-size="12" fill="#131722" text-anchor="middle">13</text>
<text x="913.5" y="866" font-size="12" fill="#131722" text-anchor="middle">Dec</text>
<text x="994.5" y="866" font-size="12" fill="#131722" text-anchor="middle">12</text>
<text x="1136.5" y="866" font-size="12" fill="#131722" text-anchor="middle" font-weight="bold" textLength="31.4" lengthAdjust="spacingAndGlyphs">2025</text>
<text x="1217.5" y="866" font-size="12" fill="#131722" text-anchor="middle">13</text>
<text x="1369.5" y="866" font-size="12" fill="#131722" text-anchor="middle">Feb</text>
<text x="1450.5" y="866" font-size="12" fill="#131722" text-anchor="middle">13</text>
<text x="1571.5" y="866" font-size="12" fill="#131722" text-anchor="middle">Mar</text>
<text x="1652.5" y="866" font-size="12" fill="#131722" text-anchor="middle">13</text>
<text x="1804.5" y="866" font-size="12" fill="#131722" text-anchor="middle">Apr</text>
<text x="18.1" y="30" font-size="12.5" fill="#131722" textLength="102.8" lengthAdjust="spacingAndGlyphs">EUR/USD Spot, 1D</text><text x="129.1" y="30" font-size="12.5" fill="#131722" textLength="9.2" lengthAdjust="spacingAndGlyphs">O</text><text x="138.3" y="30" font-size="12.5" fill="#2E8B57" textLength="40.7" lengthAdjust="spacingAndGlyphs">1.07517</text><text x="187.2" y="30" font-size="12.5" fill="#131722" textLength="8.8" lengthAdjust="spacingAndGlyphs">H</text><text x="196" y="30" font-size="12.5" fill="#2E8B57" textLength="42.9" lengthAdjust="spacingAndGlyphs">1.08213</text><text x="246.6" y="30" font-size="12.5" fill="#131722" textLength="6.9" lengthAdjust="spacingAndGlyphs">L</text><text x="253.5" y="30" font-size="12.5" fill="#2E8B57" textLength="44.0" lengthAdjust="spacingAndGlyphs">1.07333</text><text x="305.3" y="30" font-size="12.5" fill="#131722" textLength="8.9" lengthAdjust="spacingAndGlyphs">C</text><text x="314.2" y="30" font-size="12.5" fill="#2E8B57" textLength="43.8" lengthAdjust="spacingAndGlyphs">1.07960</text><text x="366" y="30" font-size="12.5" fill="#2E8B57" textLength="108.7" lengthAdjust="spacingAndGlyphs">+0.00431 (+0.40%)</text>
<text x="18.1" y="47" font-size="12.5" fill="#131722" textLength="102.0" lengthAdjust="spacingAndGlyphs">MA (100, close, 0)</text><text x="127.8" y="47" font-size="12.5" fill="#F23645" textLength="43.2" lengthAdjust="spacingAndGlyphs">1.05102</text>
<text x="18.1" y="64" font-size="12.5" fill="#131722" textLength="95.5" lengthAdjust="spacingAndGlyphs">MA (55, close, 0)</text><text x="121.4" y="64" font-size="12.5" fill="#2962FF" textLength="45.2" lengthAdjust="spacingAndGlyphs">1.05397</text>
<text x="18.1" y="81" font-size="12.5" fill="#131722" textLength="103.3" lengthAdjust="spacingAndGlyphs">MA (200, close, 0)</text><text x="129.1" y="81" font-size="12.5" fill="#FF9800" textLength="43.9" lengthAdjust="spacingAndGlyphs">1.07262</text>
<text x="18.6" y="626" font-size="12.5" fill="#131722" textLength="42.8" lengthAdjust="spacingAndGlyphs">RSI (14)</text><text x="69.7" y="626" font-size="12.5" fill="#7E57C2" textLength="32.3" lengthAdjust="spacingAndGlyphs">56.86</text>
<text x="18.1" y="769" font-size="12.5" fill="#131722" textLength="69.1" lengthAdjust="spacingAndGlyphs">ADX (14, 14)</text><text x="95.6" y="769" font-size="12.5" fill="#FF5252" textLength="29.9" lengthAdjust="spacingAndGlyphs">27.08</text>
<g fill="#131722"><path d="M10 887.1H17.9V896.8H13.9V890.8H10z"/><circle cx="21.05" cy="889.1" r="1.95"/><path d="M24.2 887.1H29L25.9 896.8H21.05z"/></g>
<text x="33.6" y="897.9" font-size="13.2" fill="#131722" textLength="73.4" lengthAdjust="spacingAndGlyphs" stroke="#131722" stroke-width="0.22">TradingView</text>
</svg></body></html>
